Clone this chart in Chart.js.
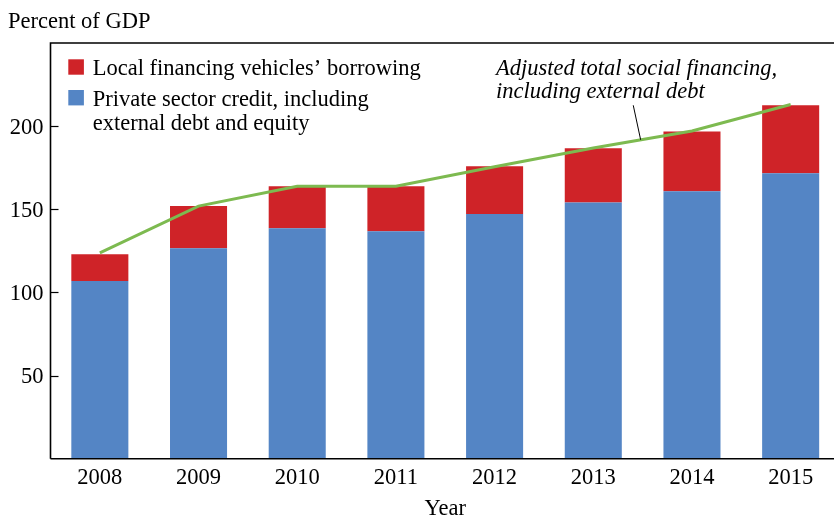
<!DOCTYPE html>
<html>
<head>
<meta charset="utf-8">
<script src="https://cdn.jsdelivr.net/npm/chart.js@4"></script>
<style>
  html, body { margin: 0; padding: 0; overflow: hidden; background: #fff; }
  #wrap { position: relative; width: 840px; height: 516px; }
</style>
</head>
<body>
<div id="wrap"><canvas id="c" width="840" height="516"></canvas></div>
<script>
// ---- data ----
const years = ['2008', '2009', '2010', '2011', '2012', '2013', '2014', '2015'];
const privateCredit = [106.8, 126.6, 138.6, 136.8, 147.1, 154.1, 160.8, 171.7];
const lfvBorrowing = [16.2, 25.3, 25.3, 27.1, 28.8, 32.6, 36.0, 40.8];
const adjustedTSF = [123.8, 151.9, 163.9, 163.9, 175.6, 186.9, 197.1, 213.0];
const yTicks = [50, 100, 150, 200];
const lfvLabel = ['Local financing vehicles’ borrowing'];
const privateLabel = ['Private sector credit, including', 'external debt and equity'];
const tsfLabel = ['Adjusted total social financing,', 'including external debt'];
const yAxisTitle = 'Percent of GDP';
const xAxisTitle = 'Year';

const BLUE = '#5485c5';
const RED = '#cf2328';
const GREEN = '#7dba50';
const FONT = "'Liberation Serif', 'Times New Roman', serif";
const FS = 22.5;

const decor = {
  id: 'decor',
  afterDatasetsDraw(chart) {
    const ctx = chart.ctx;
    const a = chart.chartArea;
    const y = chart.scales.y;
    const x = chart.scales.x;
    ctx.save();
    // frame
    ctx.strokeStyle = '#000';
    ctx.lineWidth = 1.6;
    ctx.beginPath();
    ctx.moveTo(a.left, a.bottom);
    ctx.lineTo(a.left, a.top);
    ctx.lineTo(a.right, a.top);
    ctx.lineTo(a.right, a.bottom);
    ctx.lineTo(a.left, a.bottom);
    ctx.stroke();
    // inward ticks
    ctx.lineWidth = 1.2;
    yTicks.forEach(v => {
      const py = Math.round(y.getPixelForValue(v)) + 0.5;
      ctx.beginPath();
      ctx.moveTo(a.left, py);
      ctx.lineTo(a.left + 8, py);
      ctx.stroke();
    });
    // y title
    ctx.fillStyle = '#000';
    ctx.font = FS + 'px ' + FONT;
    ctx.textBaseline = 'alphabetic';
    ctx.textAlign = 'left';
    ctx.fillText(yAxisTitle, 8, 27.5);
    // legend
    const legend = [
      { color: RED, lines: lfvLabel, top: 59.3 },
      { color: BLUE, lines: privateLabel, top: 90 }
    ];
    legend.forEach(item => {
      ctx.fillStyle = item.color;
      ctx.fillRect(68.3, item.top, 15.6, 15.4);
      ctx.fillStyle = '#000';
      item.lines.forEach((t, i) => {
        ctx.fillText(t, 92.7, item.top + 15.6 + i * 24.7);
      });
    });
    // annotation
    ctx.font = 'italic ' + FS + 'px ' + FONT;
    tsfLabel.forEach((t, i) => ctx.fillText(t, 496, 75 + i * 23.3));
    // leader line to the TSF line between 2013 and 2014
    const f = 0.48;
    const x0 = x.getPixelForValue(5), x1 = x.getPixelForValue(6);
    const ex = x0 + (x1 - x0) * f;
    const ey = y.getPixelForValue(adjustedTSF[5] + (adjustedTSF[6] - adjustedTSF[5]) * f);
    ctx.strokeStyle = '#000';
    ctx.lineWidth = 1;
    ctx.beginPath();
    ctx.moveTo(ex - 7.4, ey - 34.5);
    ctx.lineTo(ex, ey);
    ctx.stroke();
    ctx.restore();
  }
};

new Chart(document.getElementById('c'), {
  data: {
    labels: years,
    datasets: [
      {
        type: 'line',
        label: tsfLabel.join(' '),
        data: adjustedTSF,
        borderColor: GREEN,
        borderWidth: 3,
        pointRadius: 0,
        tension: 0,
        fill: false,
        stack: 'line',
        order: 0
      },
      {
        type: 'bar',
        label: privateLabel.join(' '),
        data: privateCredit,
        backgroundColor: BLUE,
        borderWidth: 0,
        stack: 'bars',
        order: 1,
        categoryPercentage: 1,
        barPercentage: 0.578
      },
      {
        type: 'bar',
        label: lfvLabel.join(' '),
        data: lfvBorrowing,
        backgroundColor: RED,
        borderWidth: 0,
        stack: 'bars',
        order: 1,
        categoryPercentage: 1,
        barPercentage: 0.578
      }
    ]
  },
  options: {
    responsive: false,
    animation: false,
    devicePixelRatio: 1,
    layout: { padding: { top: 43, left: 0, right: 0, bottom: 0 } },
    plugins: {
      legend: { display: false },
      tooltip: { enabled: false },
      title: { display: false }
    },
    scales: {
      x: {
        stacked: true,
        grid: { display: false, drawTicks: false },
        border: { display: false },
        ticks: { color: '#000', font: { family: FONT, size: FS }, padding: 6, maxRotation: 0 },
        title: {
          display: true, text: xAxisTitle, color: '#000',
          font: { family: FONT, size: FS, lineHeight: 0.7 }, padding: { top: 0, bottom: -1 }
        },
        afterFit(s) { s.height = 57.3; }
      },
      y: {
        stacked: true,
        min: 0,
        max: 250,
        grid: { display: false, drawTicks: false },
        border: { display: false },
        ticks: {
          stepSize: 50,
          color: '#000',
          font: { family: FONT, size: FS },
          padding: 7,
          labelOffset: 2,
          callback: (v) => yTicks.includes(v) ? String(v) : ''
        },
        afterFit(s) { s.width = 50.5; }
      }
    }
  },
  plugins: [decor]
});
</script>
</body>
</html>
